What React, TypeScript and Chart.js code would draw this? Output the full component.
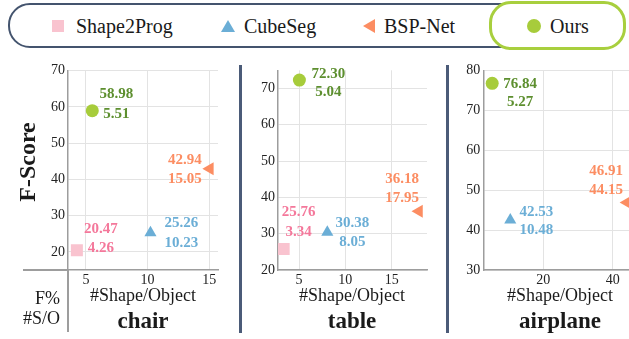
import React, { useEffect, useRef } from "react";
import { Chart, registerables } from "chart.js";

Chart.register(...registerables);

// ---------- data ----------
const methods = ["Shape2Prog", "CubeSeg", "BSP-Net", "Ours"];
const categories = ["chair", "table", "airplane"];

const chairFScore = [20.47, 25.26, 42.94, 58.98];
const chairShapes = [4.26, 10.23, 15.05, 5.51];
const tableFScore = [25.76, 30.38, 36.18, 72.3];
const tableShapes = [3.34, 8.05, 17.95, 5.04];
const airplaneFScore: (number | null)[] = [null, 42.53, 46.91, 76.84];
const airplaneShapes: (number | null)[] = [null, 10.48, 44.15, 5.27];

const chairXTicks = [5, 10, 15];
const chairYTicks = [20, 30, 40, 50, 60, 70];
const tableXTicks = [5, 10, 15];
const tableYTicks = [20, 30, 40, 50, 60, 70];
const airplaneXTicks = [20, 40];
const airplaneYTicks = [30, 40, 50, 60, 70, 80];

const xAxisTitle = "#Shape/Object";
const yAxisTitle = "F-Score";
const rowLabels = ["F%", "#S/O"];

// ---------- styles / layout ----------
const FONT = "'Liberation Serif', 'DejaVu Serif', serif";
const markerStyles = [
  { pointStyle: "rect", radius: 8.5, rotation: 0, color: "#f9c3cf" },
  { pointStyle: "triangle", radius: 7, rotation: 0, color: "#6baed6" },
  { pointStyle: "triangle", radius: 7.5, rotation: -90, color: "#fc8d62" },
  { pointStyle: "circle", radius: 6.5, rotation: 0, color: "#a7cc3b" },
];
const labelColors = ["#f4789b", "#6baed6", "#fc8d62", "#5d8f2f"];

const panels = [
  {
    name: categories[0], fscore: chairFScore, shapes: chairShapes,
    xTicks: chairXTicks, yTicks: chairYTicks,
    xMin: 3.54, xMax: 15.71, yMin: 15, yMax: 70,
    area: { l: 68, t: 70.7, r: 218, b: 270 },
    offsets: [[24, -21, -2], [31, -10, 10], [-25, -9, 10], [24, -17, 3]],
    titleX: 143,
  },
  {
    name: categories[1], fscore: tableFScore, shapes: tableShapes,
    xTicks: tableXTicks, yTicks: tableYTicks,
    xMin: 2.73, xMax: 18.81, yMin: 20, yMax: 75,
    area: { l: 278, t: 70.3, r: 427, b: 270 },
    offsets: [[15, -37, -17], [25, -9, 10], [-17, -32, -13], [29, -6, 12]],
    titleX: 352,
  },
  {
    name: categories[2], fscore: airplaneFScore, shapes: airplaneShapes,
    xTicks: airplaneXTicks, yTicks: airplaneYTicks,
    xMin: 2.71, xMax: 46.7, yMin: 30, yMax: 80,
    area: { l: 483.3, t: 70.7, r: 636, b: 270 },
    offsets: [[0, 0, 0], [26, -8, 10], [-21, -31, -12], [28, 1, 19]],
    titleX: 560,
  },
];

const Y_W = 40;
const X_H = 30;

function Panel({ p }: { p: any }) {
  const ref = useRef<HTMLCanvasElement>(null);
  const left = Math.floor(p.area.l) - Y_W;
  const top = Math.floor(p.area.t) - 12;
  const width = Math.ceil(p.area.r) - left + 12;
  const height = Math.ceil(p.area.b) - top + X_H;

  useEffect(() => {
    const datasets = methods.map((m, i) => ({
      label: m,
      data: p.fscore[i] == null ? [] : [{ x: p.shapes[i], y: p.fscore[i] }],
      pointStyle: markerStyles[i].pointStyle,
      pointRadius: markerStyles[i].radius,
      pointRotation: markerStyles[i].rotation,
      backgroundColor: markerStyles[i].color,
      borderColor: markerStyles[i].color,
      pointBorderWidth: 0,
      borderWidth: 0,
    }));

    const labelPlugin = {
      id: "pointLabels",
      afterDatasetsDraw(chart: any) {
        const ctx = chart.ctx;
        ctx.save();
        ctx.font = `bold 15px ${FONT}`;
        ctx.textAlign = "center";
        ctx.textBaseline = "middle";
        methods.forEach((_, i) => {
          if (p.fscore[i] == null) return;
          const el = chart.getDatasetMeta(i).data[0];
          if (!el) return;
          const [dx, dy1, dy2] = p.offsets[i];
          ctx.fillStyle = labelColors[i];
          ctx.fillText(p.fscore[i].toFixed(2), el.x + dx, el.y + dy1);
          ctx.fillText(p.shapes[i].toFixed(2), el.x + dx, el.y + dy2);
        });
        ctx.restore();
      },
    };

    const tickFont = { family: FONT, size: 14 };
    const chart = new Chart(ref.current as HTMLCanvasElement, {
      type: "scatter",
      data: { datasets } as any,
      options: {
        animation: false,
        responsive: false,
        devicePixelRatio: 1,
        layout: {
          padding: {
            left: p.area.l - Y_W - left,
            top: p.area.t - top,
            right: left + width - p.area.r,
            bottom: top + height - X_H - p.area.b,
          },
        },
        plugins: { legend: { display: false }, tooltip: { enabled: false } },
        scales: {
          x: {
            type: "linear",
            min: p.xMin,
            max: p.xMax,
            afterBuildTicks: (s: any) => { s.ticks = p.xTicks.map((v: number) => ({ value: v })); },
            afterFit: (s: any) => { s.height = X_H; },
            grid: { color: "#e3e3e3", drawTicks: false, lineWidth: 1 },
            border: { color: "#9d9d9d", width: 1.5 },
            ticks: { padding: 2, color: "#222", font: tickFont, callback: (v: any) => String(v) },
          },
          y: {
            type: "linear",
            min: p.yMin,
            max: p.yMax,
            afterBuildTicks: (s: any) => { s.ticks = p.yTicks.map((v: number) => ({ value: v })); },
            afterFit: (s: any) => { s.width = Y_W; },
            grid: { color: "#e3e3e3", drawTicks: false, lineWidth: 1 },
            border: { color: "#9d9d9d", width: 1.5 },
            ticks: { padding: 3, color: "#222", font: tickFont, callback: (v: any) => String(v) },
          },
        },
      } as any,
      plugins: [labelPlugin],
    });
    return () => chart.destroy();
  }, []);

  return (
    <canvas
      ref={ref}
      width={width}
      height={height}
      style={{ position: "absolute", left, top, width, height }}
    />
  );
}

function Txt({ x, y, children, style, align = "center" }: any) {
  const tx = align === "center" ? "-50%" : align === "right" ? "-100%" : "0";
  return (
    <div
      style={{
        position: "absolute", left: x, top: y, transform: `translate(${tx}, -50%)`,
        whiteSpace: "nowrap", fontFamily: FONT, color: "#1a1a1a", lineHeight: "normal",
        ...style,
      }}
    >
      {children}
    </div>
  );
}

function LegendMarker({ i, x, y }: { i: number; x: number; y: number }) {
  const c = markerStyles[i].color;
  let shape: any = null;
  if (i === 0) shape = <rect x={1} y={1} width={12} height={12} fill={c} />;
  if (i === 1) shape = <polygon points="7,1 14,13 0,13" fill={c} />;
  if (i === 2) shape = <polygon points="1,7 13,0 13,14" fill={c} />;
  if (i === 3) shape = <circle cx={7} cy={7} r={7} fill={c} />;
  return (
    <svg width={14} height={14} style={{ position: "absolute", left: x - 7, top: y - 7 }}>
      {shape}
    </svg>
  );
}

export default function App() {
  const legendY = 26;
  const legendItems = [
    { mx: 58, tx: 76 },
    { mx: 228, tx: 244 },
    { mx: 369, tx: 384 },
    { mx: 534, tx: 550 },
  ];
  return (
    <div
      style={{
        position: "absolute", left: 0, top: 0, width: 629, height: 339,
        overflow: "hidden", background: "#fff",
      }}
    >
      {/* legend frames */}
      <div
        style={{
          position: "absolute", left: 8, top: 3, width: 600, height: 41,
          border: "2.5px solid #44546e", borderRadius: 22,
        }}
      />
      <div
        style={{
          position: "absolute", left: 489, top: 1, width: 131, height: 43,
          border: "3.5px solid #a8cf3e", borderRadius: 22, background: "#fff",
        }}
      />
      {legendItems.map((it, i) => (
        <React.Fragment key={i}>
          <LegendMarker i={i} x={it.mx} y={legendY} />
          <Txt x={it.tx} y={legendY} align="left" style={{ fontSize: 20 }}>
            {methods[i]}
          </Txt>
        </React.Fragment>
      ))}

      {/* separators */}
      <div style={{ position: "absolute", left: 239, top: 65, width: 3, height: 268, background: "#4b5b78" }} />
      <div style={{ position: "absolute", left: 446, top: 65, width: 3, height: 268, background: "#4b5b78" }} />

      {/* table frame extensions of chair axes */}
      <div style={{ position: "absolute", left: 23, top: 269.25, width: 46, height: 1.5, background: "#9d9d9d" }} />
      <div style={{ position: "absolute", left: 67.25, top: 270, width: 1.5, height: 62, background: "#9d9d9d" }} />

      {panels.map((p, i) => (
        <Panel key={i} p={p} />
      ))}

      {/* y axis title */}
      <Txt x={27} y={162} style={{ fontSize: 24, fontWeight: "bold", transform: "translate(-50%, -50%) rotate(-90deg)" }}>
        {yAxisTitle}
      </Txt>

      {/* row labels */}
      <Txt x={60} y={298} align="right" style={{ fontSize: 18 }}>{rowLabels[0]}</Txt>
      <Txt x={60} y={318} align="right" style={{ fontSize: 18 }}>{rowLabels[1]}</Txt>

      {panels.map((p, i) => (
        <React.Fragment key={"t" + i}>
          <Txt x={p.titleX} y={295} style={{ fontSize: 18 }}>{xAxisTitle}</Txt>
          <Txt x={p.titleX} y={321} style={{ fontSize: 23, fontWeight: "bold" }}>{p.name}</Txt>
        </React.Fragment>
      ))}
    </div>
  );
}
